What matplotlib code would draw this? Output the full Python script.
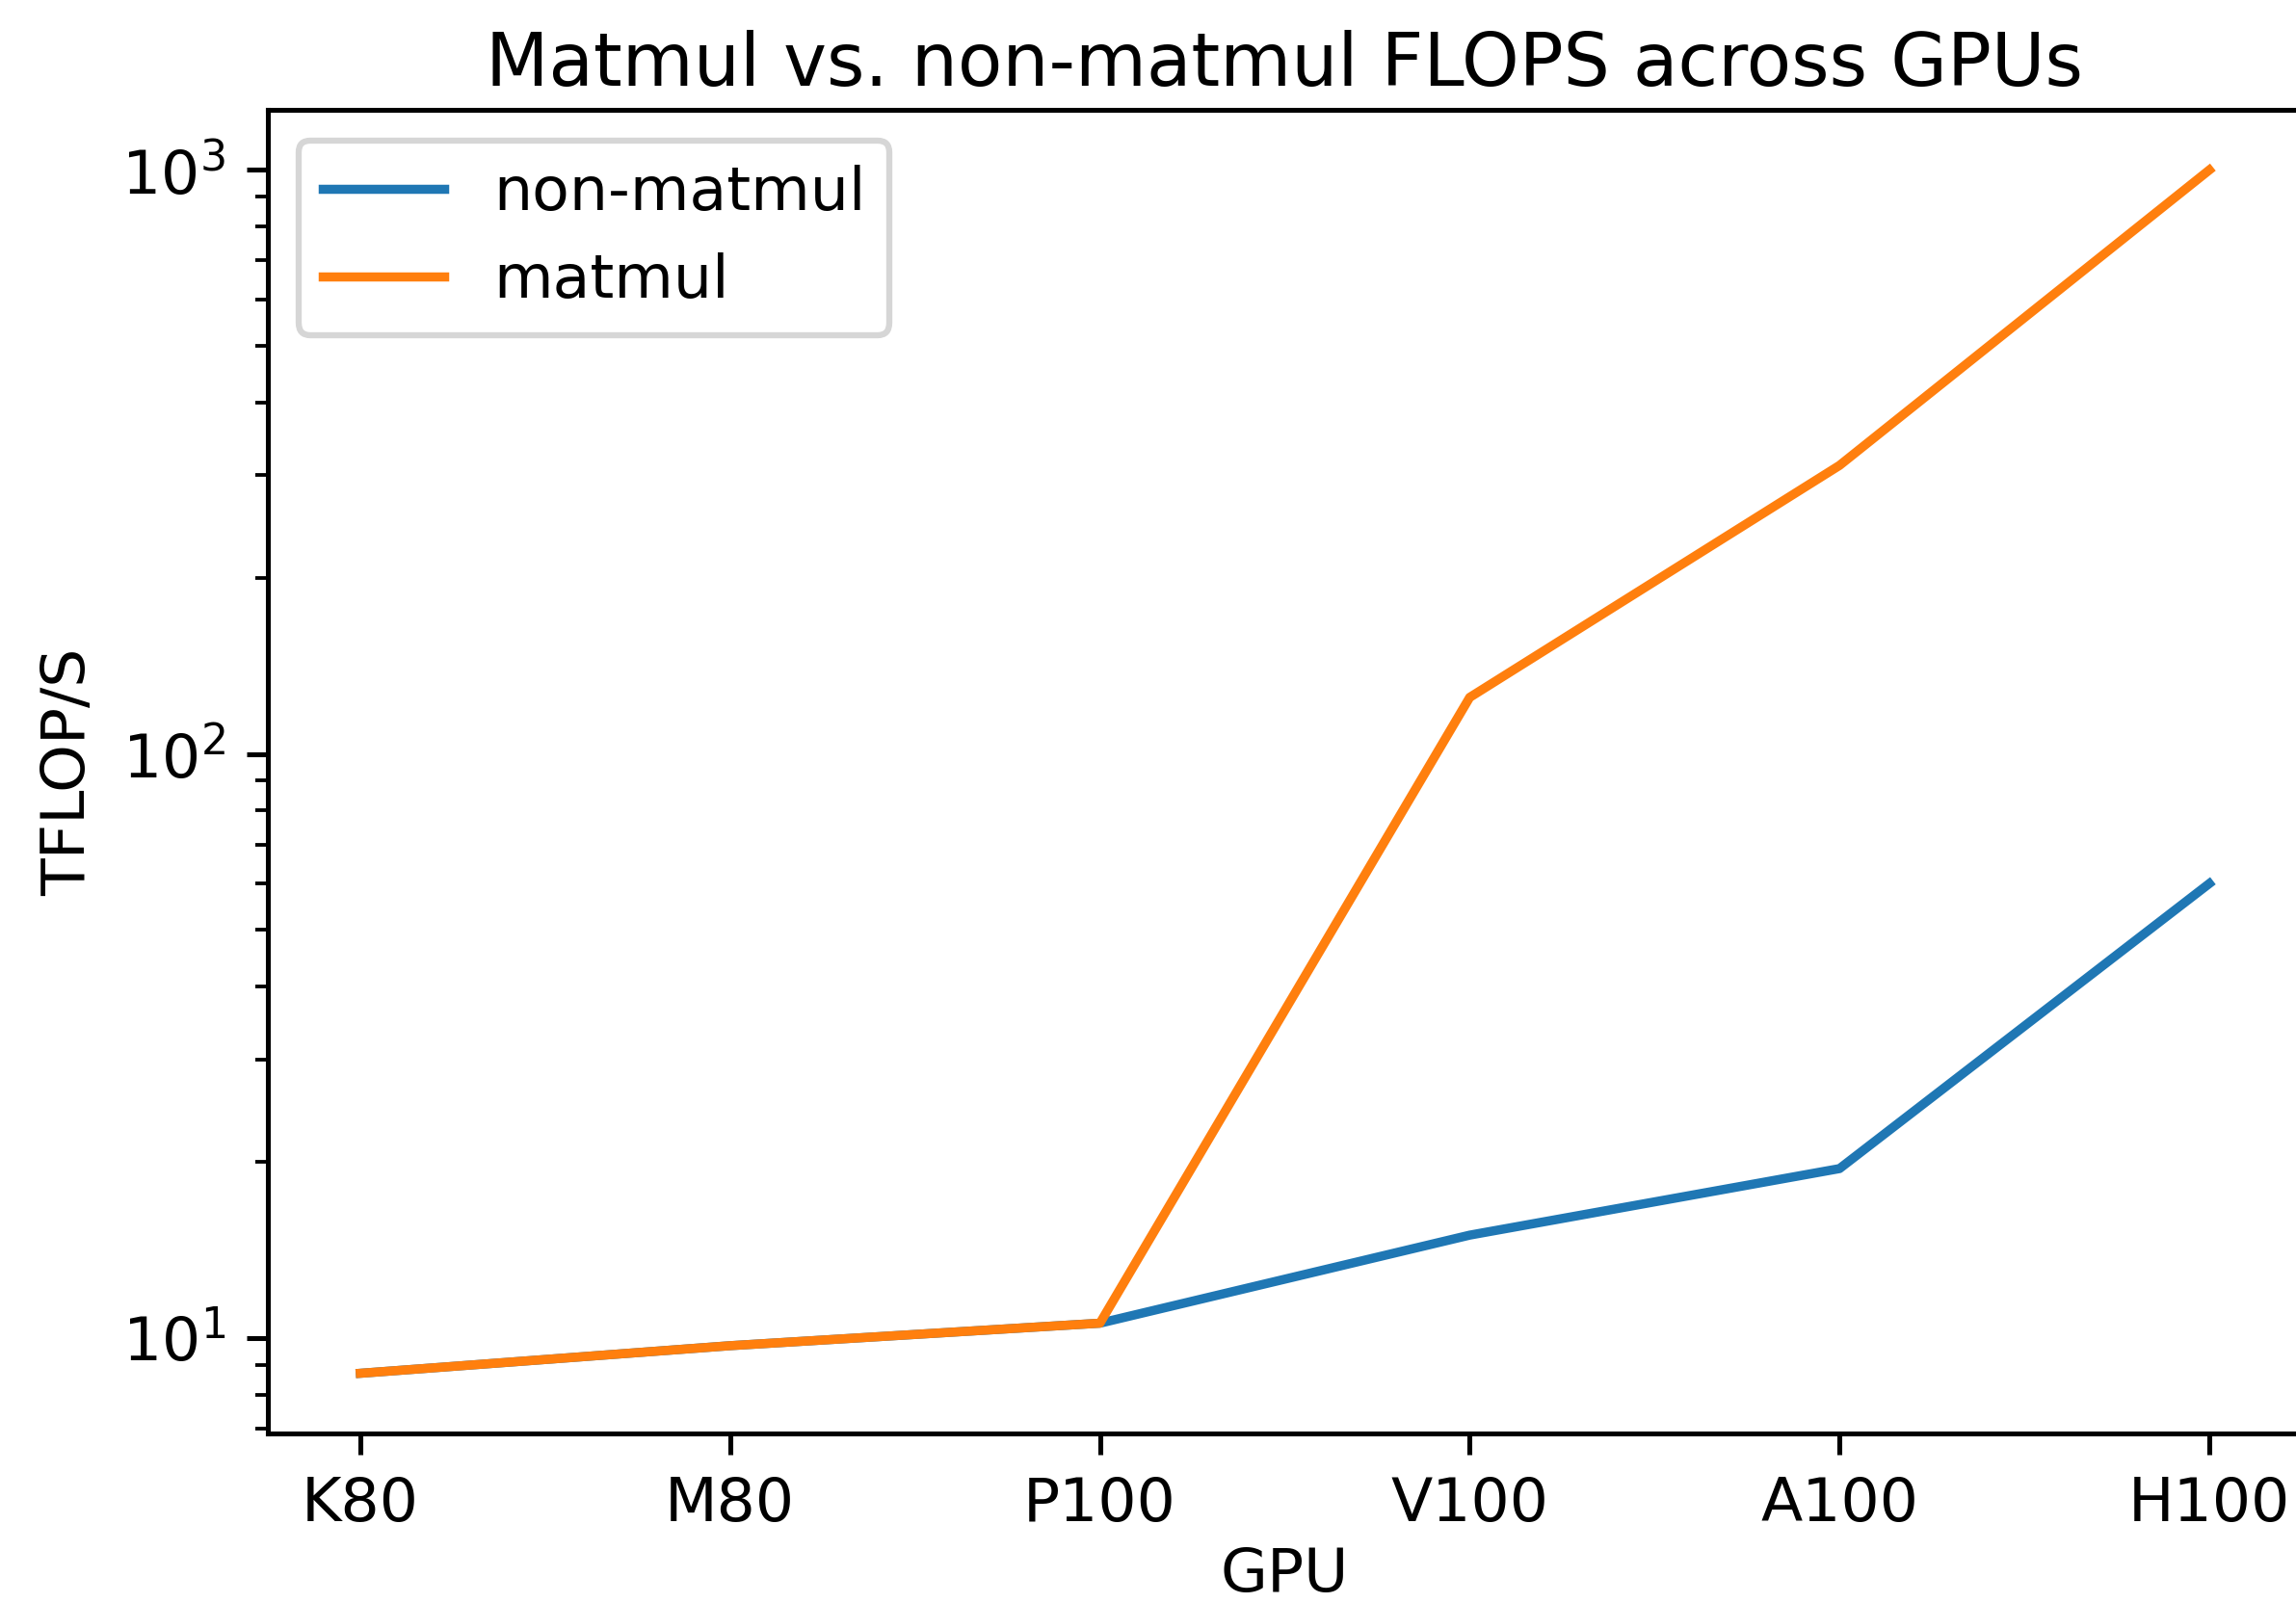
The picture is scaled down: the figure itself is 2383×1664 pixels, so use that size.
import matplotlib
matplotlib.use("Agg")
import matplotlib.pyplot as plt

gpus = ["K80", "M80", "P100", "V100", "A100", "H100"]
non_matmul = [8.7, 9.7, 10.6, 15.0, 19.5, 60.0]
matmul = [8.7, 9.7, 10.6, 125.0, 312.0, 1000.0]

DPI = 455
fig = plt.figure(figsize=(2383 / DPI, 1664 / DPI), dpi=DPI)
ax = fig.add_axes([278 / 2383, 1 - 1488 / 1664, (2389 - 278) / 2383, (1488 - 114) / 1664])

ax.plot(gpus, non_matmul, label="non-matmul", color="#1f77b4")
ax.plot(gpus, matmul, label="matmul", color="#ff7f0e")
ax.set_yscale("log")
ax.set_title("Matmul vs. non-matmul FLOPS across GPUs", pad=4)
ax.set_xlabel("GPU", labelpad=2)
ax.set_ylabel("TFLOP/S")
ax.legend(loc="upper left")

fig.savefig("out.png", dpi=DPI)
